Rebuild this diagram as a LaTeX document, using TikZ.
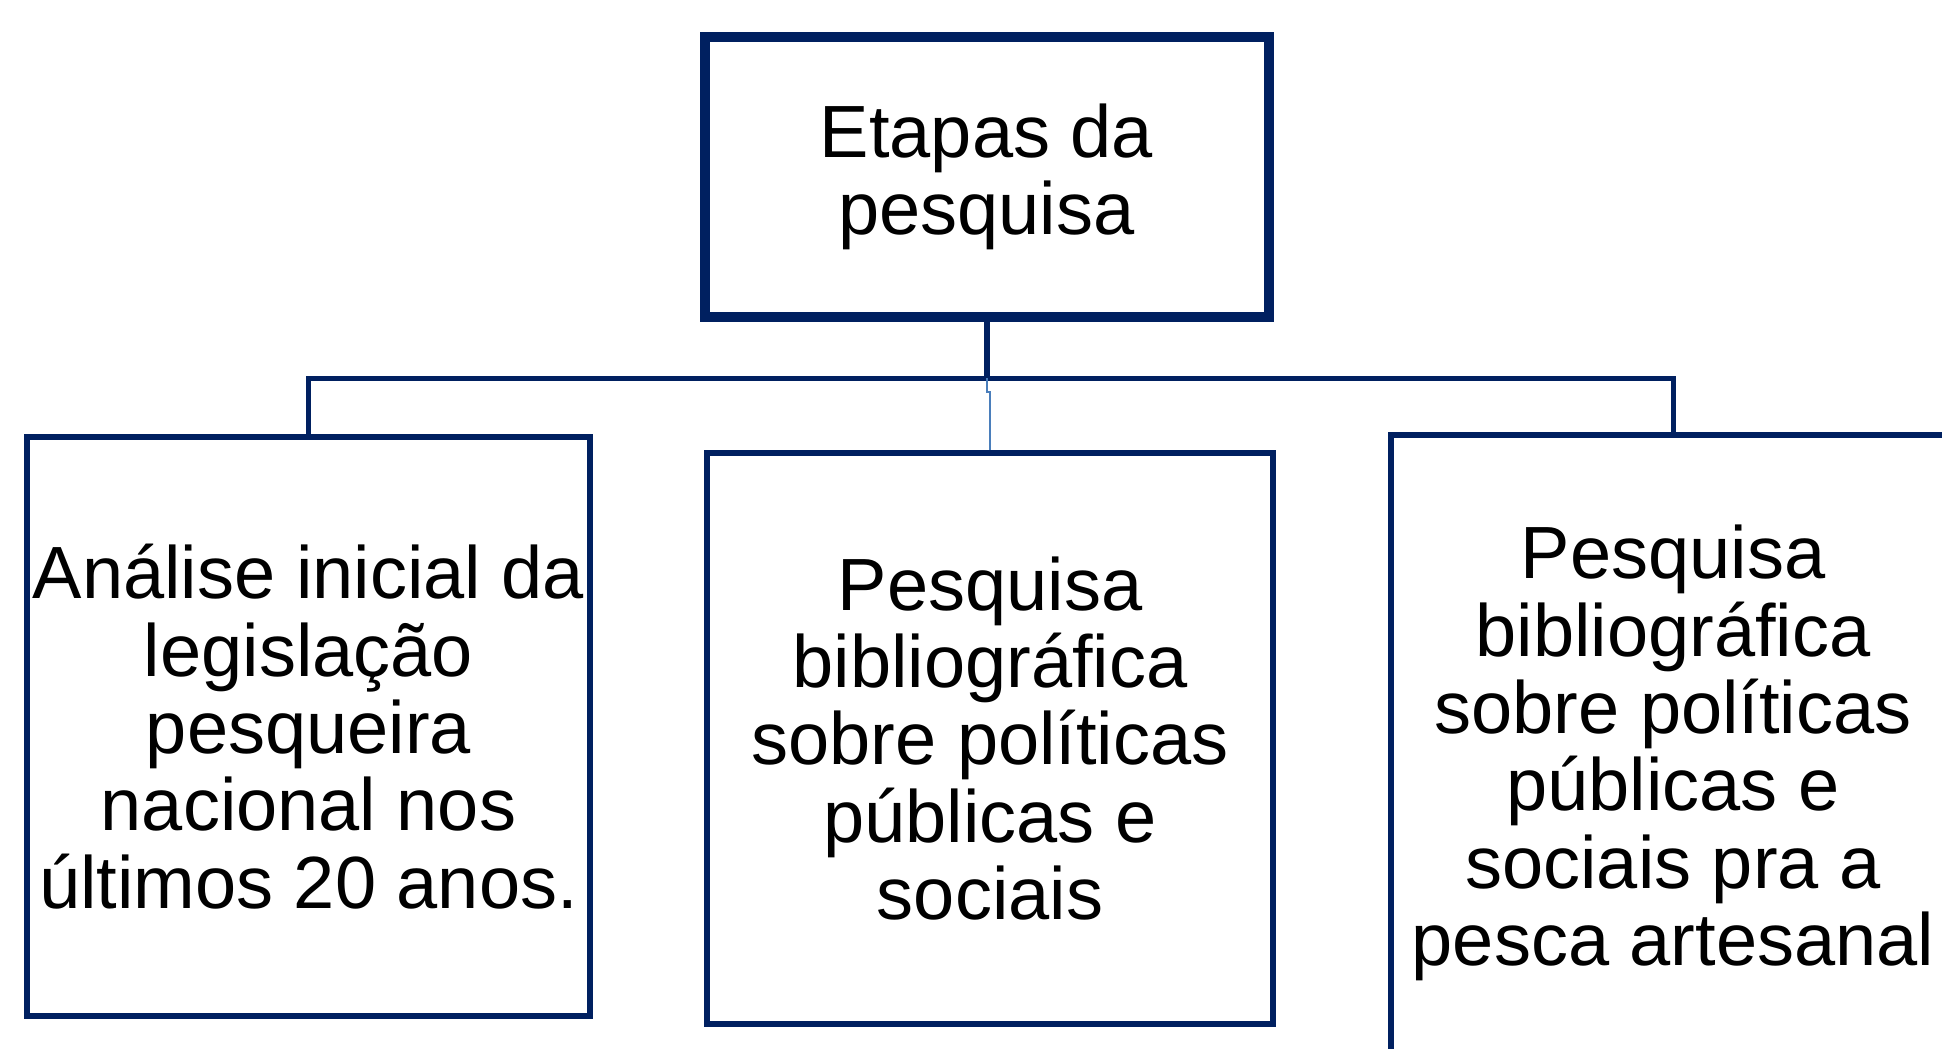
\documentclass[tikz,border=0pt]{standalone}
\usepackage{fontspec}
\setmainfont{Liberation Sans}
\definecolor{navy}{HTML}{002060}
\definecolor{thinblue}{HTML}{4A7EBB}

\begin{document}
\begin{tikzpicture}[x=0.75pt,y=-0.75pt,
        box/.style={draw=navy, line width=4.5pt, align=center, inner sep=0pt,
            font=\fontsize{55.5}{58}\selectfont},
        trunk/.style={navy, line width=3.75pt}]
        \useasboundingbox (0,0) rectangle (1942,1049);
        \clip (0,0) rectangle (1942,1049);

        \node[box, line width=7.5pt, minimum width=423pt, minimum height=210pt] (top) at (986.5,177) {Etapas da\\pesquisa};
        \node[box, minimum width=422.25pt, minimum height=434.25pt] (left) at (308.5,726.5)
            {Análise inicial da\\legislação\\pesqueira\\nacional nos\\últimos 20 anos.};
        \node[box, minimum width=424.5pt, minimum height=428.25pt] (mid) at (990,738.5)
            {Pesquisa\\bibliográfica\\sobre políticas\\públicas e\\sociais};
        \node[box, minimum width=423pt, minimum height=477pt] (right) at (1673,753)
            {Pesquisa\\bibliográfica\\sobre políticas\\públicas e\\sociais pra a\\pesca artesanal};

        \coordinate (bus) at (987,378);
        \draw[trunk, line width=4.5pt] (top.south) -- (top.south |- bus);
        \draw[trunk] (left.north) |- (bus) -| (right.north);
        %\draw[trunk] (bus) -- (mid.north);
        \draw[thinblue, line width=1.5pt] (bus) -- ++(0,14) -| (mid.north);
\end{tikzpicture}
\end{document}
